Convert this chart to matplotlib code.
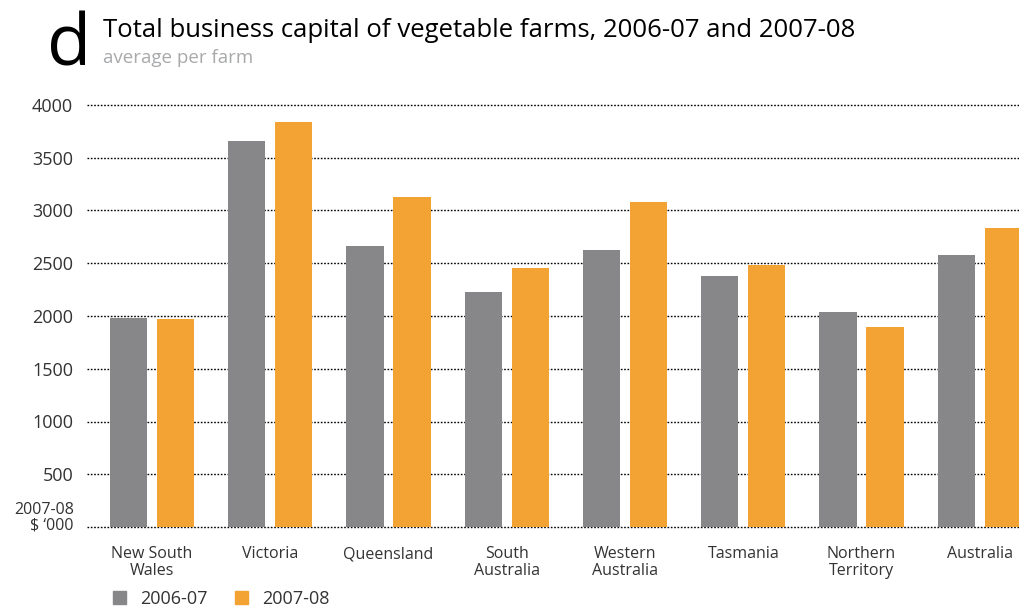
import matplotlib.pyplot as plt
import matplotlib.transforms as mtrans
import numpy as np
from matplotlib.patches import Patch

plt.rcParams['font.family'] = ['Open Sans', 'DejaVu Sans']

# average total business capital per farm, $'000
regions = ["New South\nWales", "Victoria", "Queensland", "South\nAustralia",
           "Western\nAustralia", "Tasmania", "Northern\nTerritory", "Australia"]
cap_0607 = [1980, 3660, 2665, 2225, 2625, 2380, 2040, 2580]
cap_0708 = [1970, 3840, 3130, 2455, 3080, 2485, 1895, 2835]
yticks = [500, 1000, 1500, 2000, 2500, 3000, 3500, 4000]

grey = "#878789"
orange = "#F3A333"
txt = "#333333"

fig = plt.figure(figsize=(10.2, 6.09), dpi=100)
W, H = 1020, 609
# zero line at y=527px, 4000 line at y=105px
ppu = (527 - 105) / 4000
ylo, yhi = -50, 4100
bot = 527 + (0 - ylo) * ppu
top = 527 - (yhi) * ppu
ax = fig.add_axes([87 / W, 1 - bot / H, 1 - 87 / W, (bot - top) / H])

x = np.arange(len(regions))
bw = 0.315
ax.bar(x - 0.199, cap_0607, bw, color=grey, zorder=3)
ax.bar(x + 0.199, cap_0708, bw, color=orange, zorder=3)

ax.set_xlim(-0.55, 7.34)
ax.set_ylim(ylo, yhi)

for v in [0] + yticks:
    ax.axhline(v, color="black", lw=1.0, ls=(0, (1.2, 1.2)), zorder=1)

ax.set_yticks(yticks)
ax.set_yticklabels([str(v) for v in yticks], fontsize=13, color=txt)
lift = mtrans.ScaledTranslation(0, 3 / 100, fig.dpi_scale_trans)
for lbl in ax.get_yticklabels():
    lbl.set_transform(lbl.get_transform() + lift)
ax.text(-0.66, -60, "2007-08\n$ \u2018000", ha="right", va="bottom",
        fontsize=11.5, color=txt, linespacing=0.95)
ax.set_xticks(x)
ax.set_xticklabels(regions, fontsize=11.5, color=txt, linespacing=1.05)
ax.tick_params(axis="both", length=0)
ax.tick_params(axis="y", pad=10)
ax.tick_params(axis="x", pad=10)
for s in ax.spines.values():
    s.set_visible(False)

fig.text(47 / W, 1 - 65 / H, "d", fontsize=52, color="black", ha="left", va="baseline")
fig.text(103 / W, 1 - 37 / H, "Total business capital of vegetable farms, 2006-07 and 2007-08",
         fontsize=18.5, color="black", ha="left", va="baseline")
fig.text(103 / W, 1 - 63 / H, "average per farm", fontsize=13.5, color="#a8a9ab",
         ha="left", va="baseline")

handles = [Patch(color=grey, label="2006-07"), Patch(color=orange, label="2007-08")]
fig.legend(handles=handles, loc="lower left", bbox_to_anchor=(97 / W, -15 / H),
           ncol=2, frameon=False, fontsize=13, handlelength=0.7, handleheight=0.7,
           columnspacing=1.5, handletextpad=0.8, labelcolor=txt)

fig.savefig("out.png", dpi=100)
